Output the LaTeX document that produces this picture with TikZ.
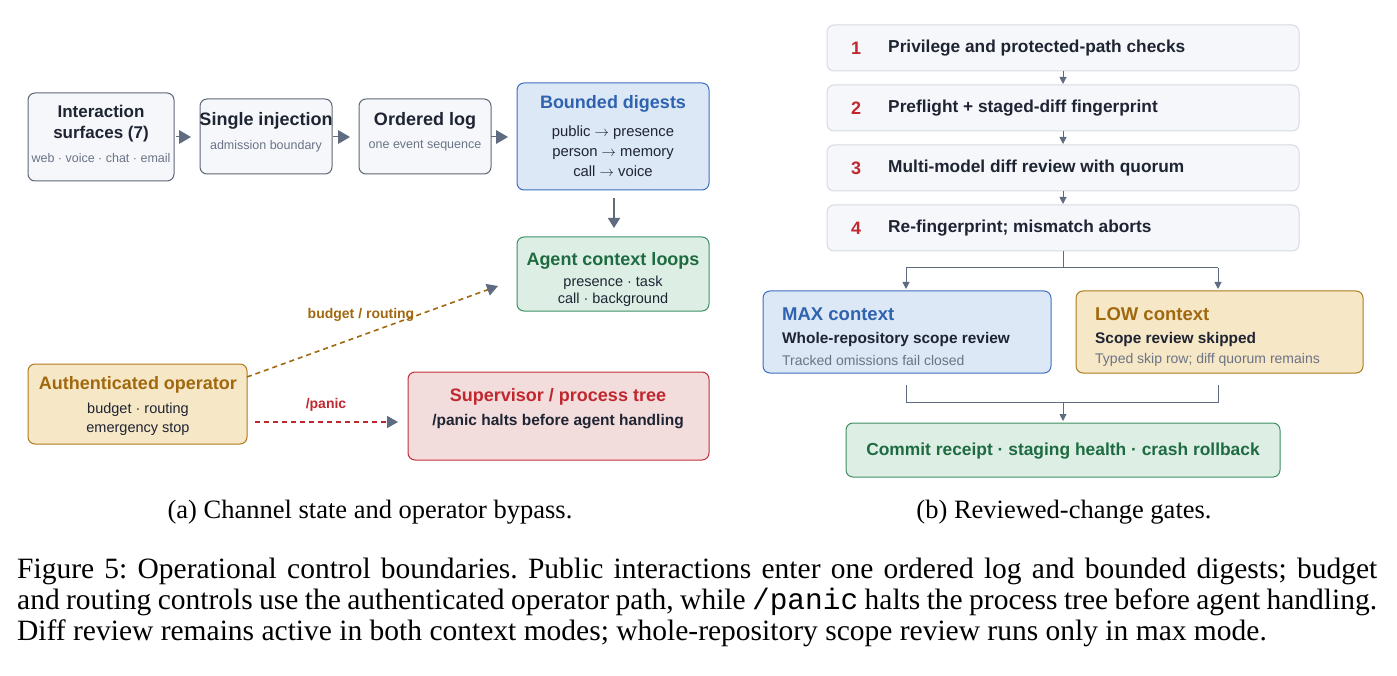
\documentclass[tikz,border=0pt]{standalone}
\usepackage{fontspec}
\setmainfont{Liberation Serif}
\newfontfamily\dsans{Liberation Sans}
\newfontfamily\dmono{Liberation Mono}
\usetikzlibrary{arrows.meta}
\definecolor{ink}{HTML}{1F2433}
\definecolor{subg}{HTML}{6B7385}
\definecolor{arr}{HTML}{5F6B80}
\definecolor{gfill}{HTML}{F5F7FB}
\definecolor{gline}{HTML}{5E6678}
\definecolor{sline}{HTML}{D6DAE4}
\definecolor{bfill}{HTML}{DCE8F6}\definecolor{bline}{HTML}{3C6FC0}\definecolor{btxt}{HTML}{2F63AF}
\definecolor{nfill}{HTML}{DDEFE5}\definecolor{nline}{HTML}{3E8E63}\definecolor{ntxt}{HTML}{1F6B41}
\definecolor{ofill}{HTML}{F6E7C6}\definecolor{oline}{HTML}{B07A1A}\definecolor{otxt}{HTML}{A0680F}
\definecolor{rfill}{HTML}{F3DCDC}\definecolor{rline}{HTML}{C0303A}\definecolor{rtxt}{HTML}{C0282F}
\tikzset{
 box/.style={draw, rounded corners=7pt, line width=1pt},
 gb/.style={box, fill=gfill, draw=gline},
 sb/.style={box, fill=gfill, draw=sline},
 tt/.style={font=\dsans\bfseries\fontsize{18}{21}\selectfont, text=ink, align=center},
 st/.style={font=\dsans\fontsize{12.5}{15}\selectfont, text=subg, align=center},
 dt/.style={font=\dsans\fontsize{14.8}{20}\selectfont, text=ink, align=center},
 tip/.style={-{Triangle[length=12pt,width=14pt]}, draw=arr, fill=arr, line width=1.4pt},
 stip/.style={-{Triangle[length=7pt,width=7pt]}, draw=arr, fill=arr, line width=1pt},
 captxt/.style={font=\frenchspacing\fontsize{29.5}{30}\selectfont, anchor=west, inner sep=0},
}
\begin{document}
\begin{tikzpicture}[x=1pt,y=-1pt]
\useasboundingbox (0,0) rectangle (1397,676);
% left part
\draw[gb] (28,93) rectangle (174,181);
\node[tt, font=\dsans\bfseries\fontsize{17}{21}\selectfont] (ia) at (101,124) {Interaction\\surfaces (7)};
\node[st] (ib) at (101,158) {web · voice · chat · email};
\draw[gb] (200,99) rectangle (332,174);
\node[tt] (sa) at (266,121) {Single injection};
\node[st] (sb2) at (266,146) {admission boundary};
\draw[gb] (359,99) rectangle (491,174);
\node[tt] (oa) at (425,121) {Ordered log};
\node[st] (ob) at (425,146) {one event sequence};
\draw[box, fill=bfill, draw=bline] (517,83) rectangle (709,190);
\node[tt, text=btxt] (ba) at (613,104) {Bounded digests};
\node[dt] (bb) at (613,151) {public $\rightarrow$ presence\\person $\rightarrow$ memory\\call $\rightarrow$ voice};
\draw[box, fill=nfill, draw=nline] (517,237) rectangle (709,311);
\node[tt, text=ntxt] (aa) at (613,261) {Agent context loops};
\node[dt, font=\dsans\fontsize{14.5}{17}\selectfont] (ab) at (613,291) {presence · task\\call · background};
\draw[box, fill=ofill, draw=oline] (28,364) rectangle (247,444);
\node[tt, text=otxt] (pa) at (138,385) {Authenticated operator};
\node[dt, font=\dsans\fontsize{14.5}{19}\selectfont] (pb) at (138,419) {budget · routing\\emergency stop};
\draw[box, fill=rfill, draw=rline] (408,372) rectangle (709,460);
\node[tt, text=rtxt] (ra) at (558,397) {Supervisor / process tree};
\node[tt, font=\dsans\bfseries\fontsize{15.5}{17}\selectfont] (rb) at (558,422) {/panic halts before agent handling};
\coordinate (a1) at (176,137); \coordinate (a1e) at (191,137);
\coordinate (a2) at (333,137); \coordinate (a2e) at (350,137);
\coordinate (a3) at (491,137); \coordinate (a3e) at (508,137);
\draw[tip, line width=0pt] (a1) -- (a1e);
\draw[tip, line width=0pt] (a2) -- (a2e);
\draw[tip, line width=0pt] (a3) -- (a3e);
\coordinate (d1) at (614,198); \coordinate (d2) at (614,228);
\draw[-{Triangle[length=10pt,width=12pt]}, draw=arr, fill=arr, line width=1.6pt] (d1) -- (d2);
\coordinate (bu1) at (247,377); \coordinate (bu2) at (498,286);
\draw[otxt, line width=1.6pt, dash pattern=on 5pt off 4pt, -{Triangle[length=11pt,width=12pt,color=arr,fill=arr]}] (bu1) -- (bu2);
\node[font=\dsans\bfseries\fontsize{14}{15}\selectfont, text=otxt] (bl) at (361,315) {budget / routing};
\coordinate (pn1) at (255,422); \coordinate (pn2) at (398,422);
\draw[rtxt, line width=1.6pt, dash pattern=on 5pt off 4pt, -{Triangle[length=11pt,width=12pt,color=arr,fill=arr]}] (pn1) -- (pn2);
\node[font=\dsans\bfseries\fontsize{14}{15}\selectfont, text=rtxt] (pl) at (326,405) {/panic};
% right part
\foreach \i/\y/\t in {1/48/Privilege and protected-path checks,2/108/Preflight + staged-diff fingerprint,3/168/Multi-model diff review with quorum,4/228/Re-fingerprint; mismatch aborts}{
 \draw[sb] (827,\y-23) rectangle (1299,\y+23);
 \node[font=\dsans\bfseries\fontsize{18}{21}\selectfont, text=rtxt] (n\i) at (856,\y) {\i};
 \node[font=\dsans\bfseries\fontsize{17.3}{21}\selectfont, text=ink, anchor=west, inner sep=0] (s\i) at (888,\y) {\t};
}
\foreach \y in {71,131,191}{
 \coordinate (q1) at (1063,\y); \coordinate (q2) at (1063,\y+13);
 \draw[stip] (q1) -- (q2);
}
\coordinate (f0) at (1063,251); \coordinate (f1) at (1063,268);
\coordinate (fl) at (906,268); \coordinate (fr) at (1218,268);
\coordinate (flb) at (906,289); \coordinate (frb) at (1218,289);
\draw[arr, line width=1pt] (f0) -- (f1) (fl) -- (fr);
\draw[stip] (fl) -- (flb); \draw[stip] (fr) -- (frb);
\draw[box, fill=bfill, draw=bline] (763,291) rectangle (1051,373);
\node[font=\dsans\bfseries\fontsize{18.5}{20}\selectfont, text=btxt, anchor=west, inner sep=0] (m1) at (782,314) {MAX context};
\node[font=\dsans\bfseries\fontsize{15.4}{17}\selectfont, text=ink, anchor=west, inner sep=0] (m2) at (782,340) {Whole-repository scope review};
\node[font=\dsans\fontsize{14}{16}\selectfont, text=subg, anchor=west, inner sep=0] (m3) at (782,360) {Tracked omissions fail closed};
\draw[box, fill=ofill, draw=oline] (1076,291) rectangle (1363,373);
\node[font=\dsans\bfseries\fontsize{18.5}{20}\selectfont, text=otxt, anchor=west, inner sep=0] (l1) at (1095,314) {LOW context};
\node[font=\dsans\bfseries\fontsize{15.4}{17}\selectfont, text=ink, anchor=west, inner sep=0] (l2) at (1095,340) {Scope review skipped};
\node[font=\dsans\fontsize{14}{16}\selectfont, text=subg, anchor=west, inner sep=0] (l3) at (1095,360) {Typed skip row; diff quorum remains};
\coordinate (g1) at (906,385); \coordinate (g2) at (906,402); \coordinate (g3) at (1218,402); \coordinate (g4) at (1218,385);
\draw[arr, line width=1pt] (g1) -- (g2) -- (g3) -- (g4);
\coordinate (h1) at (1063,402); \coordinate (h2) at (1063,421);
\draw[stip] (h1) -- (h2);
\draw[box, fill=nfill, draw=nline] (846,423) rectangle (1280,477);
\node[font=\dsans\bfseries\fontsize{17.4}{19}\selectfont, text=ntxt] (c) at (1063,451) {Commit receipt · staging health · crash rollback};
% captions
\node[font=\fontsize{26.5}{30}\selectfont] (ca) at (370,512) {(a) Channel state and operator bypass.};
\node[font=\fontsize{26.5}{30}\selectfont] (cb) at (1064,512) {(b) Reviewed-change gates.};
\node[captxt] (f1t) at (17,571) {\hbox to 1360pt{Figure 5: Operational control boundaries. Public interactions enter one ordered log and bounded digests; budget}};
\node[captxt] (f2t) at (17,602) {\hbox to 1360pt{and routing controls use the authenticated operator path, while {\dmono/panic} halts the process tree before agent handling.}};
\node[captxt] (f3t) at (17,633) {Diff review remains active in both context modes; whole-repository scope review runs only in max mode.};
\end{tikzpicture}
\end{document}
